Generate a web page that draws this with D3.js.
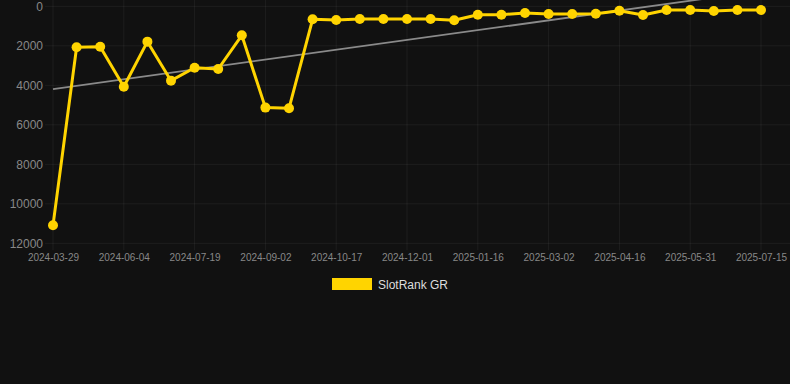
<!DOCTYPE html>
<html>
<head>
<meta charset="utf-8">
<script src="https://cdn.jsdelivr.net/npm/d3@7"></script>
<style>
  html, body { margin: 0; padding: 0; background: #111111; }
  svg { display: block; }
  text { font-family: "Liberation Sans", Arial, Helvetica, sans-serif; }
</style>
</head>
<body>
<svg id="chart" width="790" height="384"></svg>
<script>
const categories = [
  "2024-03-29","2024-04-20","2024-05-13","2024-06-04","2024-06-19","2024-07-04",
  "2024-07-19","2024-08-03","2024-08-18","2024-09-02","2024-09-17","2024-10-02",
  "2024-10-17","2024-11-01","2024-11-16","2024-12-01","2024-12-16","2024-12-31",
  "2025-01-16","2025-01-31","2025-02-15","2025-03-02","2025-03-17","2025-04-01",
  "2025-04-16","2025-05-01","2025-05-16","2025-05-31","2025-06-15","2025-06-30",
  "2025-07-15"
];
const rankValues = [
  11090, 2076, 2045, 4070, 1790, 3765, 3110, 3175, 1470, 5130, 5165,
  660, 695, 645, 645, 645, 645, 710, 425, 425, 340, 390, 390, 375,
  223, 440, 190, 190, 240, 190, 190
];
const trendValues = [4190, -780]; // trend line at first and last category
const yTicks = [0, 2000, 4000, 6000, 8000, 10000, 12000];
const seriesName = "SlotRank GR";
const labelEvery = 3;

(function () {
const svg = d3.select("#chart");
const pLeft = 53, pRight = 761, pTop = 6.3, pBottom = 243.3;

const x = d3.scalePoint().domain(d3.range(categories.length)).range([pLeft, pRight]);
const y = d3.scaleLinear().domain([0, 12000]).range([pTop, pBottom]);

const gridColor = "rgba(255,255,255,0.055)";

// horizontal grid + y labels
const yAxis = d3.axisLeft(y).tickValues(yTicks).tickFormat(d3.format("d")).tickSize(0).tickPadding(10);
const gy = svg.append("g").attr("transform", `translate(${pLeft},0)`).call(yAxis);
gy.select(".domain").remove();
gy.selectAll("text").attr("fill", "#888").attr("font-size", 12);
svg.append("g").selectAll("line").data(yTicks).join("line")
  .attr("x1", pLeft - 8).attr("x2", 790)
  .attr("y1", d => y(d)).attr("y2", d => y(d))
  .attr("stroke", gridColor).attr("stroke-width", 1);

// vertical grid + x labels
const shown = d3.range(categories.length).filter(i => i % labelEvery === 0);
const xAxis = d3.axisBottom(x).tickValues(shown).tickFormat(i => categories[i]).tickSize(0).tickPadding(11);
const gx = svg.append("g").attr("transform", `translate(0,${pBottom})`).call(xAxis);
gx.select(".domain").remove();
gx.selectAll("text").attr("fill", "#888").attr("font-size", 10);
svg.append("g").selectAll("line").data(shown).join("line")
  .attr("x1", d => x(d)).attr("x2", d => x(d))
  .attr("y1", 0).attr("y2", pBottom + 7)
  .attr("stroke", gridColor).attr("stroke-width", 1);

// trend line
svg.append("line")
  .attr("x1", x(0)).attr("y1", y(trendValues[0]))
  .attr("x2", x(categories.length - 1)).attr("y2", y(trendValues[1]))
  .attr("stroke", "#8a8a8a").attr("stroke-width", 1.8);

// series line
const line = d3.line().x((d, i) => x(i)).y(d => y(d));
svg.append("path").datum(rankValues)
  .attr("d", line)
  .attr("fill", "none").attr("stroke", "#FFD400").attr("stroke-width", 3)
  .attr("stroke-linejoin", "round");
svg.append("g").selectAll("circle").data(rankValues).join("circle")
  .attr("cx", (d, i) => x(i)).attr("cy", d => y(d)).attr("r", 5)
  .attr("fill", "#FFD400");

// legend
const lg = svg.append("g");
lg.append("rect").attr("x", 332).attr("y", 278).attr("width", 40).attr("height", 12).attr("fill", "#FFD400");
lg.append("text").attr("x", 378).attr("y", 288.5).attr("font-size", 12).attr("fill", "#dddddd").text(seriesName);
})();
</script>
</body>
</html>
